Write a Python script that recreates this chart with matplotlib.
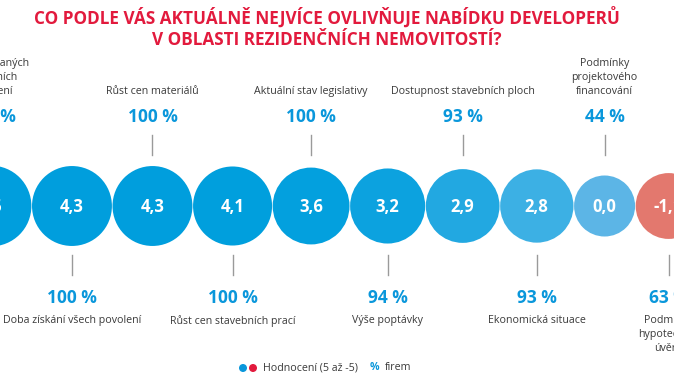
import matplotlib
matplotlib.use("Agg")
import matplotlib.pyplot as plt
from matplotlib.patches import Circle
from matplotlib import font_manager

# ---- data ----
factors = [
    "Počet vydaných\nstavebních\npovolení",
    "Doba získání všech povolení",
    "Růst cen materiálů",
    "Růst cen stavebních prací",
    "Aktuální stav legislativy",
    "Výše poptávky",
    "Dostupnost stavebních ploch",
    "Ekonomická situace",
    "Podmínky\nprojektového\nfinancování",
    "Podmínky\nhypotečních\núvěrů",
]
ratings = [4.5, 4.3, 4.3, 4.1, 3.6, 3.2, 2.9, 2.8, 0.0, -1.1]
share_pct = [100, 100, 100, 100, 100, 94, 93, 93, 44, 63]

title_lines = ["CO PODLE VÁS AKTUÁLNĚ NEJVÍCE OVLIVŇUJE NABÍDKU DEVELOPERŮ",
               "V OBLASTI REZIDENČNÍCH NEMOVITOSTÍ?"]
legend_rating = "Hodnocení (5 až -5)"
legend_pct = "firem"

# ---- style ----
W, H = 674, 380
BLUE_TXT = "#0A97DB"
RED_TITLE = "#E21A3D"
TXT = "#3a3a3a"
LINE = "#9a9a9a"
circle_colors = ["#009EDD", "#009EDD", "#009EDD", "#009FDD", "#03A0DE",
                 "#0CA2DF", "#22A8E1", "#3CB0E4", "#5CB5E6", "#E3786E"]

avail = {f.name for f in font_manager.fontManager.ttflist}
body = "Open Sans" if "Open Sans" in avail else "DejaVu Sans"
title_font = "Liberation Sans Narrow" if "Liberation Sans Narrow" in avail else body

fig = plt.figure(figsize=(W / 100, H / 100), dpi=100)
ax = fig.add_axes([0, 0, 1, 1])
ax.set_xlim(0, W)
ax.set_ylim(H, 0)
ax.set_aspect("equal")
ax.axis("off")

# title
for k, t in enumerate(title_lines):
    ax.text(327, 17 + k * 23, t, ha="center", va="center", color=RED_TITLE,
            fontsize=12.3, fontweight="bold", family=title_font)

# circle sizes from ratings, packed left to right
radii = [30.5 + 2.2 * abs(v) for v in ratings]
gap = 0.6
xs = []
x = -9.0
for i, r in enumerate(radii):
    if i > 0:
        x = xs[-1] + radii[i - 1] + r + gap
    xs.append(x)

CY = 206
for i, (xc, r, v, c) in enumerate(zip(xs, radii, ratings, circle_colors)):
    ax.add_patch(Circle((xc, CY), r, facecolor=c, edgecolor="none"))
    ax.text(xc, CY + 1, f"{v:.1f}".replace(".", ","), ha="center", va="center",
            color="white", fontsize=12, fontweight="bold", family=body)
    pct = f"{share_pct[i]} %"
    if i % 2 == 0:
        ax.plot([xc, xc], [135, 155], color=LINE, lw=1)
        ax.text(xc, 117, pct, ha="center", va="center", color=BLUE_TXT,
                fontsize=12.5, fontweight="bold", family=body)
        ax.text(xc, 97, factors[i], ha="center", va="bottom", color=TXT,
                fontsize=7.7, family=body, linespacing=1.35)
    else:
        ax.plot([xc, xc], [255, 275], color=LINE, lw=1)
        ax.text(xc, 298, pct, ha="center", va="center", color=BLUE_TXT,
                fontsize=12.5, fontweight="bold", family=body)
        ax.text(xc, 315, factors[i], ha="center", va="top", color=TXT,
                fontsize=7.7, family=body, linespacing=1.35)

# legend
ax.add_patch(Circle((243, 368), 4, facecolor="#0A97DB", edgecolor="none"))
ax.add_patch(Circle((253, 368), 4, facecolor="#E21A3D", edgecolor="none"))
ax.text(263, 368, legend_rating, ha="left", va="center", color=TXT,
        fontsize=7.7, family=body)
ax.text(370, 368, "%", ha="left", va="center", color=BLUE_TXT,
        fontsize=7.7, fontweight="bold", family=body)
ax.text(385, 368, legend_pct, ha="left", va="center", color=TXT,
        fontsize=7.7, family=body)

fig.savefig("out.png", dpi=100)
